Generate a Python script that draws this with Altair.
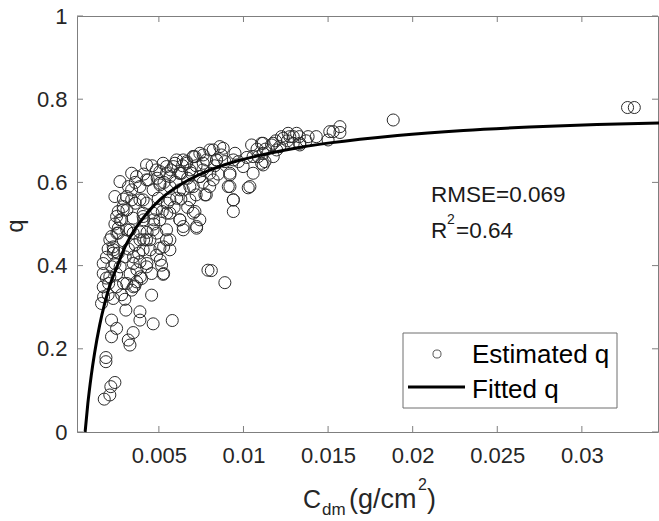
import altair as alt
import pandas as pd

# ---- data ----
est_x = [
 0.00177,0.0021,0.00216,0.0024,0.00187,0.00187,0.0022,0.00329,0.00319,0.00348,0.0025,0.00466,0.00579,0.00388,0.00388,0.0022,0.00457,0.0079,0.0081,0.0089,
 0.00525,0.00516,0.00457,0.00398,0.00358,0.00299,0.00161,0.0023,0.00171,0.0025,0.00171,0.0021,0.0031,0.00339,0.00305,0.00368,0.00427,
 0.00171,0.0024,0.00348,0.00388,
 0.0094,0.0094,0.01028,0.0091,0.0092,0.0080,0.0078,0.00723,0.00644,0.00624,0.00713,0.00742,0.00506,0.00565,0.00506,0.00447,0.00407,0.00388,0.00348,0.00289,
 0.0025,0.0024,0.0027,0.00339,0.00388,0.00427,0.00486,0.00545,0.00605,0.00634,0.00693,0.00703,0.00762,0.00821,0.0088,0.00841,0.0094,0.01057,0.01057,0.01116,
 0.01107,0.01048,0.01176,0.01235,0.01294,0.01382,0.01333,0.01215,0.0151,0.0021,0.0023,0.0031,0.00427,0.00407,0.00466,0.00565,0.00624,0.00683,0.00496,0.00506,
 0.00565,0.00585,0.00664,0.00742,0.00801,0.00742,0.0087,0.00525,0.00368,0.00339,0.00427,0.0031,0.0028,0.0026,0.00388,0.00466,0.00545,0.00486,0.00565,
 0.00173,0.00203,0.00222,0.00232,0.00252,0.00271,0.00311,0.0036,0.0033,0.0041,0.00449,0.00528,0.00508,0.00429,0.0039,0.0035,0.00291,0.00271,0.00301,0.0035,
 0.00488,0.00547,0.00469,0.0041,0.00528,
 0.0026,0.00289,0.00339,0.00388,0.00437,0.00506,0.00545,0.00595,0.00664,0.00703,0.00762,0.0023,0.00407,0.00466,0.00506,0.00565,0.00624,0.00486,0.00565,0.00624,
 0.00703,0.00723,0.00644,0.00407,0.00348,0.00427,0.00545,
 0.01885,0.0157,0.0157,0.0150,0.0133,0.01274,0.01225,0.01166,0.01294,0.01116,0.01127,0.01176,0.01314,0.01264,0.01116,0.01196,0.01333,
 0.0327,0.0331,0.0153,
 0.01107,0.01087,0.01038,0.0092,0.0094,0.0086,0.00801,0.00713,0.00644,0.00841,0.00782,0.00683,0.00624,0.00742,0.00821,0.0092,0.00772,0.00703,0.00644,0.00605,
 0.00683,0.0095,0.00998,
 0.0019,0.002,0.0022,0.0024,0.0026,0.0029,0.0032,0.0036,0.0041,0.0046,0.0049,0.0053,0.0057,0.006,0.0064,0.0067,0.0072,0.0076,0.0083,0.0089,
 0.0097,0.0102,0.0108,0.0113,0.0119,0.0126,0.0137,0.0143,
 0.0029,0.0032,0.0036,0.0038,0.0043,0.0047,0.0052,0.0055,0.0059,0.0063,0.0067,0.0072,0.0076,0.0085,0.0025,0.0028,0.0033,0.0037,0.0026,0.0019,0.002,
]
est_q = [
 0.079,0.089,0.109,0.119,0.179,0.169,0.229,0.209,0.221,0.239,0.249,0.260,0.268,0.269,0.289,0.269,0.329,0.389,0.388,0.359,
 0.379,0.401,0.381,0.369,0.351,0.319,0.309,0.321,0.349,0.349,0.381,0.373,0.357,0.341,0.293,0.361,0.397,
 0.405,0.405,0.405,0.409,
 0.530,0.558,0.587,0.590,0.618,0.590,0.570,0.490,0.486,0.510,0.530,0.510,0.510,0.462,0.442,0.462,0.438,0.481,0.514,0.542,
 0.518,0.566,0.602,0.582,0.558,0.606,0.630,0.622,0.654,0.622,0.622,0.662,0.646,0.678,0.682,0.654,0.654,0.622,0.662,0.670,
 0.646,0.690,0.694,0.706,0.710,0.710,0.694,0.686,0.722,0.462,0.430,0.486,0.550,0.526,0.526,0.558,0.582,0.590,0.562,0.594,
 0.590,0.638,0.646,0.614,0.622,0.670,0.666,0.646,0.614,0.622,0.642,0.566,0.510,0.478,0.462,0.486,0.486,0.425,0.438,
 0.325,0.357,0.397,0.438,0.478,0.510,0.534,0.550,0.486,0.462,0.438,0.445,0.413,0.405,0.373,0.349,0.357,0.397,0.421,0.421,
 0.478,0.526,0.510,0.510,0.381,
 0.490,0.534,0.558,0.590,0.606,0.626,0.638,0.646,0.650,0.662,0.666,0.445,0.558,0.582,0.598,0.614,0.622,0.534,0.526,0.510,
 0.526,0.494,0.494,0.518,0.478,0.462,0.462,
 0.750,0.734,0.720,0.702,0.710,0.710,0.710,0.690,0.694,0.694,0.650,0.662,0.718,0.718,0.642,0.678,0.690,
 0.780,0.780,0.722,
 0.694,0.662,0.590,0.590,0.558,0.686,0.678,0.662,0.654,0.654,0.654,0.630,0.622,0.614,0.606,0.622,0.570,0.590,0.582,0.562,
 0.558,0.670,0.638,
 0.42,0.44,0.47,0.50,0.53,0.56,0.59,0.60,0.62,0.64,0.61,0.60,0.63,0.60,0.64,0.61,0.64,0.63,0.64,0.65,
 0.65,0.66,0.68,0.68,0.70,0.70,0.70,0.71,
 0.46,0.44,0.45,0.43,0.48,0.50,0.53,0.55,0.54,0.56,0.54,0.57,0.60,0.62,0.38,0.33,0.38,0.39,0.43,0.37,0.33,
]

fit_x = [0.00064, 0.0008, 0.001, 0.0012, 0.0015, 0.0018, 0.0021, 0.0026, 0.003, 0.0035, 0.0043,
         0.0051, 0.0059, 0.0068, 0.0078, 0.0094, 0.0114, 0.0133, 0.0151, 0.0191, 0.023, 0.0269,
         0.0309, 0.0346]
fit_q = [0.0, 0.068, 0.135, 0.19, 0.257, 0.31, 0.352, 0.405, 0.445, 0.482, 0.526,
         0.56, 0.585, 0.607, 0.626, 0.649, 0.669, 0.684, 0.695, 0.713, 0.725, 0.733,
         0.739, 0.743]

x_ticks = [0.005, 0.01, 0.015, 0.02, 0.025, 0.03]
y_ticks = [0, 0.2, 0.4, 0.6, 0.8, 1.0]

# ---- layout ----
W, H = 581, 416
FONT = "Liberation Sans"
AX = "#7f7f7f"

xs = alt.Scale(domain=[0.00016, 0.0345], nice=False, zero=False)
ys = alt.Scale(domain=[0, 1], nice=False, zero=False)

pts_df = pd.DataFrame({"x": est_x, "q": est_q})
fit_df = pd.DataFrame({"x": fit_x, "q": fit_q})
xt_df = pd.DataFrame({"x": x_ticks})
yt_df = pd.DataFrame({"q": y_ticks})

xaxis = alt.Axis(values=x_ticks, format="~g", domain=False, ticks=False, tickSize=0, grid=False,
                 labelFont=FONT, labelFontSize=22, labelColor="#262626", labelPadding=13,
                 labelFlush=False)
yaxis = alt.Axis(values=y_ticks, format="~g", domain=False, ticks=False, tickSize=0, grid=False,
                 labelFont=FONT, labelFontSize=22, labelColor="#262626", labelPadding=10)

X = alt.X("x:Q", scale=xs, axis=xaxis, title=None)
Y = alt.Y("q:Q", scale=ys, axis=yaxis, title=None)

pts = alt.Chart(pts_df).mark_point(shape="circle", filled=False, size=145, stroke="#2b2b2b",
                                   strokeWidth=1, opacity=1).encode(x=X, y=Y)

fit = alt.Chart(fit_df).mark_line(color="black", strokeWidth=3, interpolate="monotone").encode(x=X, y=Y)

tk = dict(color=AX, strokeWidth=1)
xt_b = alt.Chart(xt_df).mark_rule(**tk).encode(x=X, y=alt.value(H), y2=alt.value(H - 6))
xt_t = alt.Chart(xt_df).mark_rule(**tk).encode(x=X, y=alt.value(0), y2=alt.value(6))
yt_l = alt.Chart(yt_df).mark_rule(**tk).encode(y=Y, x=alt.value(0), x2=alt.value(6))
yt_r = alt.Chart(yt_df).mark_rule(**tk).encode(y=Y, x=alt.value(W), x2=alt.value(W - 6))


def txt(s, x, y, size, color="#000000", baseline="alphabetic", align="left", angle=0):
    kw = dict(font=FONT, fontSize=size, color=color, baseline=baseline, align=align)
    if angle:
        kw["angle"] = angle
    return alt.Chart(pd.DataFrame({"s": [s]})).mark_text(**kw).encode(
        text="s:N", x=alt.value(x), y=alt.value(y))


# annotations
rmse = txt("RMSE=0.069", 354, 186, 22.5, "#1a1a1a")
r_a = txt("R", 354, 222, 22.5, "#1a1a1a")
r_b = txt("2", 370, 208, 14, "#1a1a1a")
r_c = txt("=0.64", 379, 222, 22.5, "#1a1a1a")

# axis titles
ytitle = txt("q", -61, 210, 24, "#262626", baseline="middle", align="center", angle=270)
xt1 = txt("C", 226, 492, 25, "#262626")
xt2 = txt("dm", 245, 499, 17, "#262626")
xt3 = txt("(g/cm", 272, 492, 27, "#262626")
xt4 = txt("2", 341, 474, 16, "#262626")
xt5 = txt(")", 350, 492, 27, "#262626")

# legend
one = pd.DataFrame({"a": [0]})
leg_box = alt.Chart(one).mark_rect(fill="white", stroke="#6e6e6e", strokeWidth=1).encode(
    x=alt.value(326), x2=alt.value(540), y=alt.value(317), y2=alt.value(392))
leg_pt = alt.Chart(one).mark_point(shape="circle", filled=False, size=65, stroke="#555555",
                                   strokeWidth=1, opacity=1).encode(
    x=alt.value(360), y=alt.value(338))
leg_ln = alt.Chart(one).mark_rule(color="black", strokeWidth=3).encode(
    x=alt.value(331), x2=alt.value(388), y=alt.value(371))
leg_t1 = txt("Estimated q", 395, 347, 26)
leg_t2 = txt("Fitted q", 395, 382, 26)

chart = alt.layer(
    pts, fit, xt_b, xt_t, yt_l, yt_r,
    rmse, r_a, r_b, r_c, ytitle, xt1, xt2, xt3, xt4, xt5,
    leg_box, leg_pt, leg_ln, leg_t1, leg_t2,
).properties(
    width=W, height=H,
    autosize=alt.AutoSizeParams(type="none"),
    padding={"left": 77, "top": 16, "right": 1, "bottom": 88},
    background="white",
).configure_view(stroke=AX, strokeWidth=1)

chart.save("out.html", embed_options={"renderer": "svg", "actions": False})
